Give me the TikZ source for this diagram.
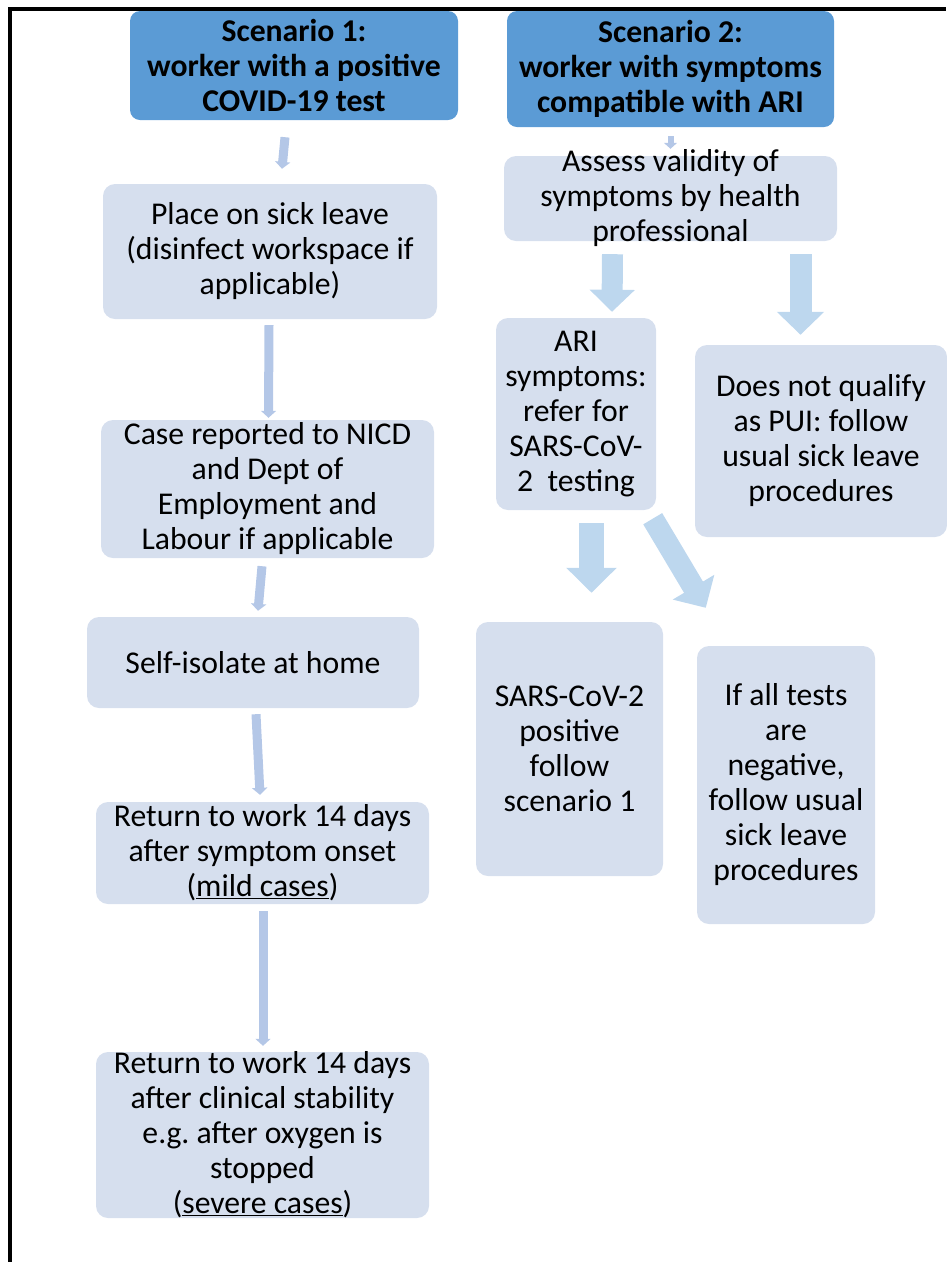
\documentclass[tikz,border=0pt]{standalone}
\usepackage{xcolor}
\usepackage{fontspec}
\setmainfont{Carlito}
\usepackage{tikz}
\usetikzlibrary{arrows.meta, calc}

\definecolor{headblue}{HTML}{5B9BD5}
\definecolor{boxblue}{HTML}{D6DFEE}
\definecolor{thinblue}{HTML}{B4C7E7}
\definecolor{fatblue}{HTML}{BDD7EE}

\begin{document}
\begin{tikzpicture}[x=1pt, y=-1pt,
    every node/.style={font=\fontsize{31.7}{35}\selectfont, align=center},
    head/.style={fill=headblue, rounded corners=10pt, inner sep=0pt, font=\fontsize{31.7}{35}\selectfont\bfseries},
    stepbox/.style={fill=boxblue, rounded corners=12pt, inner sep=0pt},
    thinarrow/.style={draw=thinblue, line width=9pt, -{Triangle[width=15pt,length=7pt]}},
    fatarrow/.style={draw=fatblue, line width=22pt, -{Triangle[width=46pt,length=23pt]}}]
        \useasboundingbox (0,0) rectangle (946,1262);

        % Frame
        \draw[line width=4pt] (9.5,1262) -- (9.5,8.8) -- (946,8.8);

        % Scenario 1
        \node[head, minimum width=328pt, minimum height=109pt] (sc1) at (294,65.5) {Scenario 1:\\worker with a positive\\COVID-19 test};
        \node[stepbox, minimum width=334pt, minimum height=135pt] (place) at (270,251.5) {Place on sick leave\\(disinfect workspace if\\applicable)};
        \node[stepbox, minimum width=333pt, minimum height=138pt] (case) at (267.5,489) {Case reported to NICD\\and Dept of\\Employment and\\Labour if applicable};
        \node[stepbox, minimum width=332pt, minimum height=91pt] (self) at (253,662.5) {Self-isolate at home};
        \node[stepbox, minimum width=333pt, minimum height=102pt] (ret1) at (262.5,853) {};
        \node (ret1text) at (ret1.center) {Return to work 14 days\\after symptom onset\\(\underline{mild cases})};
        \node[stepbox, minimum width=333pt, minimum height=166pt] (ret2) at (262.5,1135) {};
        \node (ret2text) at (ret2.center) {Return to work 14 days\\after clinical stability\\e.g.\ after oxygen is\\stopped\\(\underline{severe cases})};

        \draw[thinarrow] ($(sc1.south)+(-9,17)$) -- ($(place.north)+(12,-15)$);
        \draw[thinarrow] ($(place.south)+(-1,6)$) -- ($(case.north)+(1,-2)$);
        \draw[thinarrow] ($(case.south)+(-5.5,8)$) -- ($(self.north)+(5,-6)$);
        \draw[thinarrow] ($(self.south)+(3,6)$) -- ($(ret1.north)+(-2.5,-7)$);
        \draw[thinarrow] ($(ret1.south)+(0.5,7)$) -- ($(ret2.north)+(0.5,-6)$);

        % Scenario 2
        \node[head, minimum width=327pt, minimum height=116pt] (sc2) at (670.5,69) {Scenario 2:\\worker with symptoms\\compatible with ARI};
        \node[stepbox, minimum width=333pt, minimum height=85pt] (assess) at (670.5,198.5) {};
        \node (assesstext) at (assess.center) {Assess validity of\\symptoms by health\\professional};
        \node[stepbox, minimum width=160pt, minimum height=192pt] (ari) at (576,414) {ARI\\symptoms:\\refer for\\SARS-CoV-\\2\ \ testing};
        \node[stepbox, minimum width=252pt, minimum height=192pt] (pui) at (821,441) {Does not qualify\\as PUI: follow\\usual sick leave\\procedures};
        \node[stepbox, minimum width=187pt, minimum height=254pt] (sars) at (569.5,749) {SARS-CoV-2\\positive\\follow\\scenario 1};
        \node[stepbox, minimum width=178pt, minimum height=278pt] (neg) at (786,785) {If all tests\\are\\negative,\\follow usual\\sick leave\\procedures};

        \draw[thinarrow, line width=6pt, -{Triangle[width=13pt,length=6pt]}] ($(sc2.south)+(0,9)$) -- ($(assess.north)+(0,-7)$);
        \draw[fatarrow, line width=21pt, -{Triangle[width=44pt,length=22pt]}] ($(assess.south)+(-58,13)$) -- ($(ari.north)+(36,-6)$);
        \draw[fatarrow] ($(assess.south)+(130,13)$) -- ($(pui.north)+(-20.5,-10)$);
        \draw[fatarrow, line width=25pt, -{Triangle[width=49pt,length=25pt]}] ($(ari.south)+(15.5,13)$) -- ($(sars.north)+(22,-29)$);
        \draw[fatarrow, -{Triangle[width=47pt,length=24pt]}] ($(ari.south east)+(-3.5,8.5)$) -- ($(neg.north west)+(9,-38)$);

    \end{tikzpicture}
\end{document}
